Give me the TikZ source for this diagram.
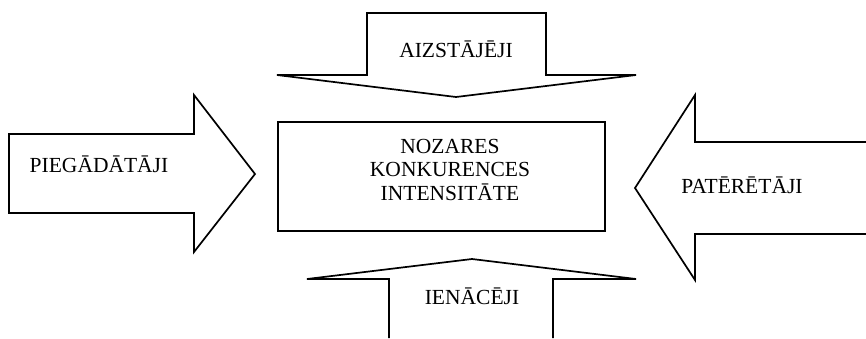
\documentclass[tikz,border=0pt]{standalone}
\usepackage{fontspec}
\setmainfont{Liberation Serif}
\begin{document}
\begin{tikzpicture}[x=1pt,y=-1pt,
  block/.style={draw=black,line width=1.7pt,line join=miter,fill=white},
  label/.style={font=\fontsize{21.5}{23.5}\selectfont,inner sep=0pt,anchor=base}]
\useasboundingbox (0,0) rectangle (866,338);
% supplier arrow, pointing right
\draw[block] (9,134) -- (194,134) -- (194,95) -- (255,174) -- (194,252)
  -- (194,213) -- (9,213) -- cycle;
% substitutes arrow, pointing down
\draw[block] (367,13) -- (546,13) -- (546,75) -- (636,75) -- (456,97)
  -- (277,75) -- (367,75) -- cycle;
% customers arrow, pointing left, cut off at the right edge
\draw[block] (866,142) -- (695,142) -- (695,95) -- (635,188) -- (695,280)
  -- (695,234) -- (866,234);
% new entrants arrow, pointing up, cut off at the bottom edge
\draw[block] (389,338) -- (389,279) -- (307,279) -- (472,259) -- (636,279)
  -- (553,279) -- (553,338);
% central box
\draw[block] (278,122) rectangle (605,231);
\node[label] (supp) at (99,172) {PIEGĀDĀTĀJI};
\node[label] (subs) at (456,57) {AIZSTĀJĒJI};
\node[label] (cust) at (742,193) {PATĒRĒTĀJI};
\node[label] (entr) at (472,304) {IENĀCĒJI};
% a multi-line node's base is the baseline of its last line
\node[label,align=center] (core) at (450,200) {NOZARES\\KONKURENCES\\INTENSITĀTE};
\end{tikzpicture}
\end{document}
